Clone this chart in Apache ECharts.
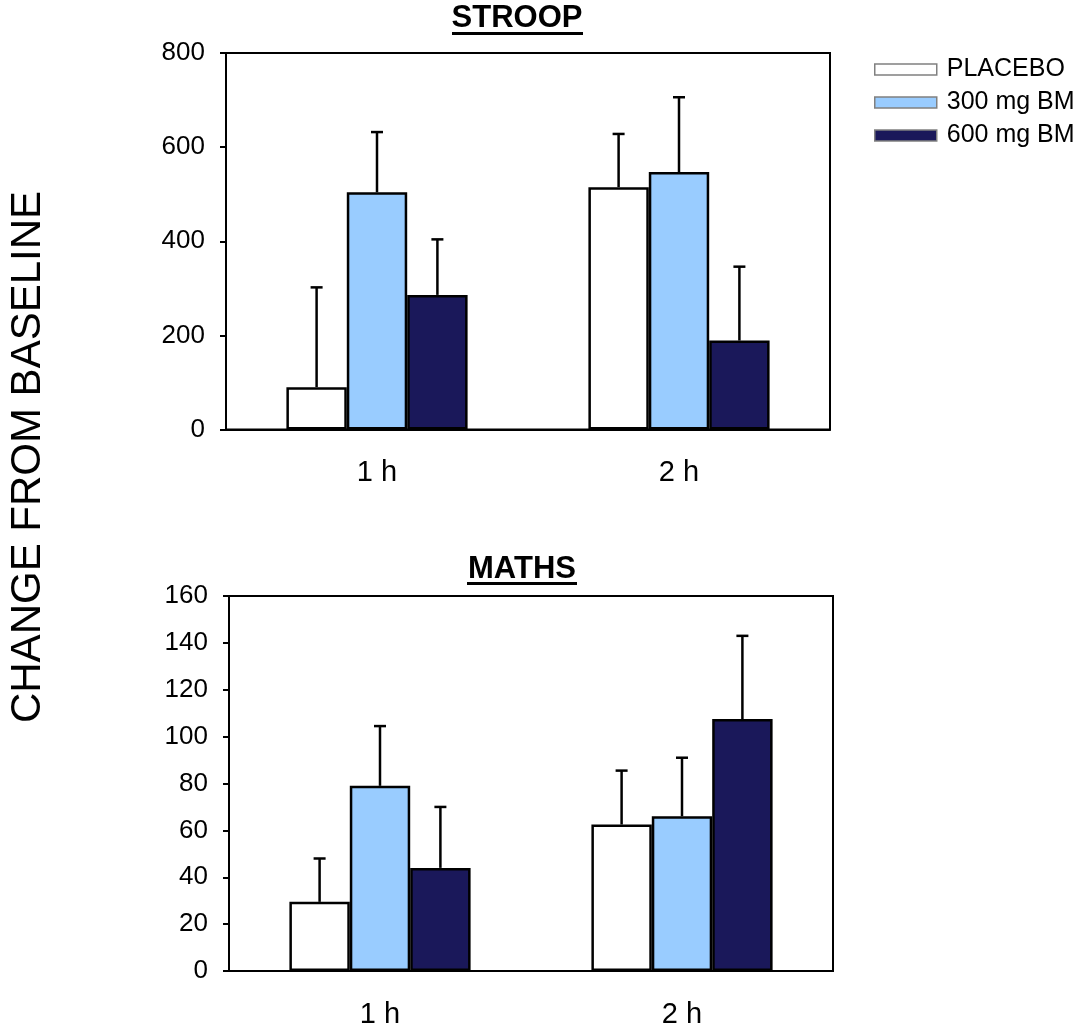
<!DOCTYPE html>
<html>
<head>
<meta charset="utf-8">
<script src="https://cdn.jsdelivr.net/npm/echarts@6/dist/echarts.min.js"></script>
<style>html,body{margin:0;padding:0;background:#fff;}#chart{width:1082px;height:1029px;}</style>
</head>
<body>
<div id="chart"></div>
<script>
var categories = ['1 h', '2 h'];
var seriesNames = ['PLACEBO', '300 mg BM', '600 mg BM'];

var stroopPlacebo = [90, 515];
var stroopPlaceboErr = [212, 113];
var stroop300 = [504, 547];
var stroop300Err = [128, 159];
var stroop600 = [286, 189];
var stroop600Err = [118, 157];

var mathsPlacebo = [29.5, 62.5];
var mathsPlaceboErr = [18.5, 23];
var maths300 = [79, 66];
var maths300Err = [25.5, 25];
var maths600 = [44, 107.5];
var maths600Err = [26, 35.5];

var stroopTicks = {min: 0, max: 800, interval: 200};
var mathsTicks = {min: 0, max: 160, interval: 20};

var colors = ['#ffffff', '#99ccff', '#1a185a'];
var FONT = 'Liberation Sans, Arial, sans-serif';

function barSeries(name, data, gi, ci) {
  return {
    name: name, type: 'bar', xAxisIndex: gi, yAxisIndex: gi,
    data: data, barWidth: '20%', barGap: '0%',
    itemStyle: {color: colors[ci], borderColor: '#000', borderWidth: 2.5},
    emphasis: {disabled: true}, z: 2
  };
}
function errSeries(name, means, errs, gi, ci) {
  var d = means.map(function (m, i) { return [i, m, m + errs[i]]; });
  return {
    name: name, type: 'custom', xAxisIndex: gi, yAxisIndex: gi, z: 3,
    data: d, encode: {x: 0, y: [1, 2]}, silent: true,
    renderItem: function (params, api) {
      var band = api.size([1, 0])[0];
      var off = (ci - 1) * band * 0.2;
      var p0 = api.coord([api.value(0), api.value(1)]);
      var p1 = api.coord([api.value(0), api.value(2)]);
      var x = p0[0] + off;
      var st = {stroke: '#000', lineWidth: 2.5};
      return {type: 'group', children: [
        {type: 'line', shape: {x1: x, y1: p0[1], x2: x, y2: p1[1]}, style: st},
        {type: 'line', shape: {x1: x - 6, y1: p1[1], x2: x + 6, y2: p1[1]}, style: st}
      ]};
    }
  };
}
function xAxis(gi) {
  return {
    type: 'category', gridIndex: gi, data: categories, boundaryGap: true,
    axisLine: {lineStyle: {color: '#000', width: 2}},
    axisTick: {alignWithLabel: true, length: 5, lineStyle: {color: '#000', width: 2}},
    axisLabel: {color: '#000', fontSize: 29, fontFamily: FONT, margin: 29, lineHeight: 29},
    splitLine: {show: false}
  };
}
function yAxis(gi, t) {
  return {
    type: 'value', gridIndex: gi, min: t.min, max: t.max, interval: t.interval,
    axisLine: {show: true, lineStyle: {color: '#000', width: 2}},
    axisTick: {show: true, length: 6, lineStyle: {color: '#000', width: 2}},
    axisLabel: {color: '#000', fontSize: 26, fontFamily: FONT, margin: 21},
    splitLine: {show: false}
  };
}

var chart = echarts.init(document.getElementById('chart'), null, {renderer: 'canvas'});
chart.setOption({
  backgroundColor: '#fff',
  animation: false,
  title: [
    {text: 'STROOP', left: 517, top: 3, textAlign: 'center', padding: 0,
     textStyle: {fontSize: 31, fontWeight: 'bold', fontFamily: FONT, color: '#000'}},
    {text: 'MATHS', left: 522, top: 554, textAlign: 'center', padding: 0,
     textStyle: {fontSize: 31, fontWeight: 'bold', fontFamily: FONT, color: '#000'}}
  ],
  legend: {
    orient: 'vertical', left: 869, top: 52, itemWidth: 62, itemHeight: 11, itemGap: 8,
    data: seriesNames, icon: 'rect',
    itemStyle: {borderColor: '#808080', borderWidth: 1.5},
    textStyle: {fontSize: 25, fontFamily: FONT, color: '#000', lineHeight: 25, padding: [0, 0, 0, 5]}
  },
  grid: [
    {left: 226, right: 252, top: 53, bottom: 599.5, show: true, borderColor: '#000', borderWidth: 2, containLabel: false},
    {left: 229, right: 249, top: 596, bottom: 55, show: true, borderColor: '#000', borderWidth: 2, containLabel: false}
  ],
  xAxis: [xAxis(0), xAxis(1)],
  yAxis: [yAxis(0, stroopTicks), yAxis(1, mathsTicks)],
  series: [
    barSeries(seriesNames[0], stroopPlacebo, 0, 0),
    barSeries(seriesNames[1], stroop300, 0, 1),
    barSeries(seriesNames[2], stroop600, 0, 2),
    errSeries(seriesNames[0], stroopPlacebo, stroopPlaceboErr, 0, 0),
    errSeries(seriesNames[1], stroop300, stroop300Err, 0, 1),
    errSeries(seriesNames[2], stroop600, stroop600Err, 0, 2),
    barSeries(seriesNames[0], mathsPlacebo, 1, 0),
    barSeries(seriesNames[1], maths300, 1, 1),
    barSeries(seriesNames[2], maths600, 1, 2),
    errSeries(seriesNames[0], mathsPlacebo, mathsPlaceboErr, 1, 0),
    errSeries(seriesNames[1], maths300, maths300Err, 1, 1),
    errSeries(seriesNames[2], maths600, maths600Err, 1, 2)
  ],
  graphic: [
    {type: 'line', shape: {x1: 452, y1: 33.5, x2: 583, y2: 33.5}, style: {stroke: '#000', lineWidth: 3}},
    {type: 'line', shape: {x1: 467, y1: 583.5, x2: 577, y2: 583.5}, style: {stroke: '#000', lineWidth: 3}},
    {type: 'text', x: 28, y: 457, rotation: Math.PI / 2,
     style: {text: 'CHANGE FROM BASELINE', fontSize: 42, fontFamily: FONT, fill: '#000',
             textAlign: 'center', textVerticalAlign: 'middle'}}
  ]
});
</script>
</body>
</html>
